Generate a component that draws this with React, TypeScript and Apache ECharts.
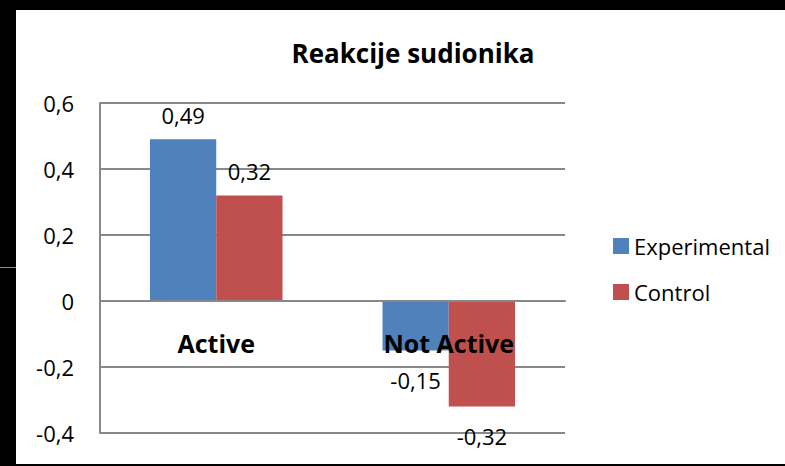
import React, { useEffect, useRef } from "react";
import * as echarts from "echarts";

const categories = ["Active", "Not Active"];
const experimental = [0.49, -0.15];
const control = [0.32, -0.32];
const seriesNames = ["Experimental", "Control"];
const titleText = "Reakcije sudionika";

const FONT = "Open Sans";

function fmt(v: number) {
  return String(Math.round(v * 100) / 100).replace(".", ",");
}

function makeData(values: number[]) {
  return values.map((v) => ({
    value: v,
    label: {
      position: v >= 0 ? "top" : "bottom",
      distance: v >= 0 ? 13 : 18,
    },
  }));
}

export default function App() {
  const ref = useRef<HTMLDivElement>(null);
  useEffect(() => {
    if (!ref.current) return;
    const chart = echarts.init(ref.current, undefined, { renderer: "svg" });
    const labelStyle = {
      show: true,
      color: "#000",
      fontFamily: FONT,
      fontSize: 22,
      formatter: (p: any) => fmt(p.value),
    };
    chart.setOption({
      animation: false,
      backgroundColor: "#000",
      title: {
        text: titleText,
        left: 408,
        top: 35,
        textAlign: "center",
        textStyle: { fontFamily: FONT, fontSize: 26, fontWeight: "bold", color: "#000" },
      },
      graphic: [
        {
          type: "rect",
          z: -10,
          silent: true,
          shape: { x: 16, y: 10, width: 769, height: 454 },
          style: { fill: "#fff" },
        },
        {
          type: "line",
          z: -10,
          silent: true,
          shape: { x1: 0, y1: 267.5, x2: 16, y2: 267.5 },
          style: { stroke: "#8a8a8a", lineWidth: 1 },
        },
      ],
      legend: {
        orient: "vertical",
        left: 608,
        top: 230,
        itemWidth: 16,
        itemHeight: 16,
        itemGap: 24,
        icon: "rect",
        data: seriesNames,
        textStyle: { fontFamily: FONT, fontSize: 22, color: "#000" },
      },
      grid: {
        left: 100,
        right: 220,
        top: 103,
        bottom: 33,
        containLabel: false,
        outerBoundsMode: "none",
      },
      xAxis: {
        type: "category",
        data: categories,
        z: 10,
        position: "bottom",
        offset: -132,
        axisLine: { onZero: false, lineStyle: { color: "#888", width: 2 } },
        axisTick: { show: false },
        axisLabel: {
          margin: 29,
          color: "#000",
          fontFamily: FONT,
          fontSize: 25,
          fontWeight: "bold",
        },
      },
      yAxis: {
        type: "value",
        min: -0.4,
        max: 0.6,
        interval: 0.2,
        axisLine: { show: true, lineStyle: { color: "#888", width: 2 } },
        axisTick: { show: false },
        splitLine: { lineStyle: { color: "#888", width: 2 } },
        axisLabel: {
          margin: 26,
          color: "#000",
          fontFamily: FONT,
          fontSize: 22,
          formatter: (v: number) => fmt(v),
        },
      },
      series: [
        {
          name: seriesNames[0],
          type: "bar",
          data: makeData(experimental),
          itemStyle: { color: "#4F81BD" },
          barGap: "0%",
          barCategoryGap: "43%",
          label: labelStyle,
        },
        {
          name: seriesNames[1],
          type: "bar",
          data: makeData(control),
          itemStyle: { color: "#C0504D" },
          label: labelStyle,
        },
      ],
    });
    return () => chart.dispose();
  }, []);
  return (
    <div
      ref={ref}
      style={{ position: "fixed", left: 0, top: 0, width: 785, height: 466 }}
    />
  );
}
